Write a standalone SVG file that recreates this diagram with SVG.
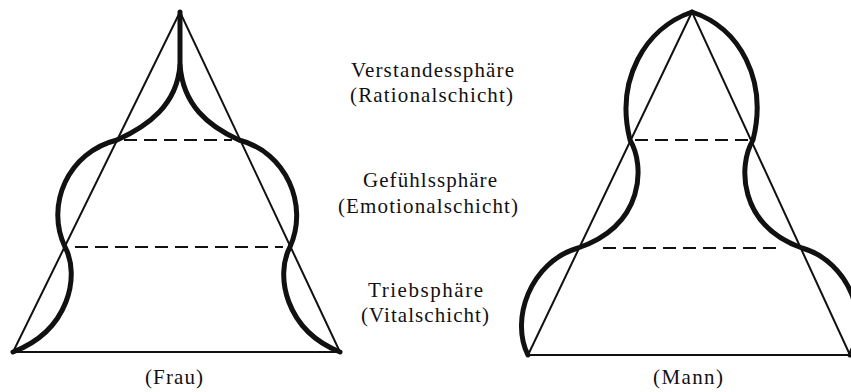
<svg xmlns="http://www.w3.org/2000/svg" width="851" height="392" viewBox="0 0 851 392">
<style>
.tri{fill:none;stroke:#111;stroke-width:2;stroke-linejoin:miter}
.thick{fill:none;stroke:#111;stroke-width:5;stroke-linecap:round;stroke-linejoin:round}
.dash{fill:none;stroke:#111;stroke-width:1.8;stroke-dasharray:13 7}
.lbl{font-family:"Liberation Serif","Times New Roman",serif;font-size:21px;fill:#111}
</style>
<rect width="851" height="392" fill="#fff"/>
<g id="frau">
<path class="tri" d="M180,12 L13,352 L340,352 Z"/>
<path class="thick" d="M180,12 L180,65 C183,105 208,126 239,140 C286,152 309,205 290,247 C275,275 285,330 340,352"/>
<path class="thick" d="M180,65 C177,105 148,126 117,140 C68,152 45,205 65,247 C80,275 70,330 13,352"/>
<line class="dash" x1="124" y1="140" x2="232" y2="140"/>
<line class="dash" x1="75" y1="247" x2="283" y2="247"/>
</g>
<g id="mann">
<path class="tri" d="M692,12 L528,355 L850,355 Z"/>
<path class="thick" d="M692,12 C645,28 615,80 630,140 C645,165 645,225 578,248 C530,262 510,320 528,355"/>
<path class="thick" d="M692,12 C740,28 768,80 753,140 C738,165 738,225 802,248 C850,262 870,320 850,355"/>
<line class="dash" x1="635" y1="140" x2="750" y2="140"/>
<line class="dash" x1="603" y1="248" x2="778" y2="248"/>
</g>
<g id="labels" class="lbl">
<text x="351" y="77" textLength="163" lengthAdjust="spacing">Verstandessphäre</text>
<text x="350" y="102" textLength="163" lengthAdjust="spacing">(Rationalschicht)</text>
<text x="363" y="187" textLength="134" lengthAdjust="spacing">Gefühlssphäre</text>
<text x="338" y="213" textLength="180" lengthAdjust="spacing">(Emotionalschicht)</text>
<text x="368" y="297" textLength="115" lengthAdjust="spacing">Triebsphäre</text>
<text x="361" y="322" textLength="128" lengthAdjust="spacing">(Vitalschicht)</text>
<text x="145" y="384" textLength="58" lengthAdjust="spacing">(Frau)</text>
<text x="653" y="384" textLength="70" lengthAdjust="spacing">(Mann)</text>
</g>
</svg>
